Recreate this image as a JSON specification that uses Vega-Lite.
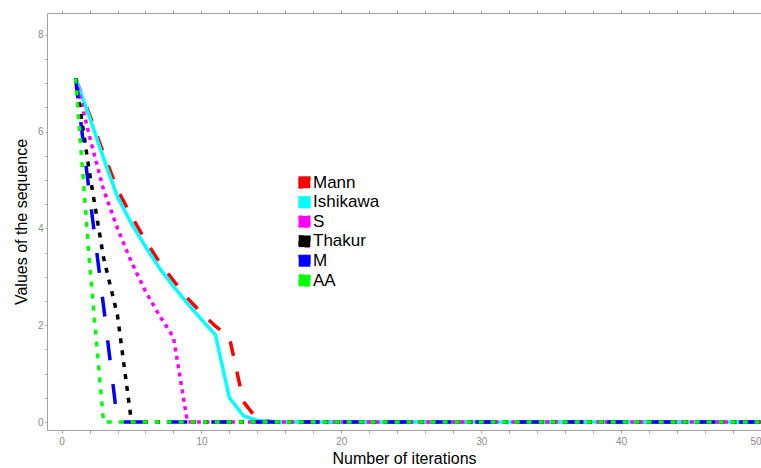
{
  "$schema": "https://vega.github.io/schema/vega-lite/v6.json",
  "width": 714,
  "height": 417,
  "autosize": {"type": "none"},
  "padding": {"left": 47, "top": 13, "right": 0, "bottom": 38},
  "config": {"view": {"stroke": "#a0a0a0", "strokeWidth": 1}, "font": "Liberation Sans"},
  "datasets": {
    "seq": [
      {"series":"Mann","n":1,"value":7.1},{"series":"Mann","n":2,"value":6.35},{"series":"Mann","n":3,"value":5.55},{"series":"Mann","n":4,"value":4.8},{"series":"Mann","n":5,"value":4.25},{"series":"Mann","n":6,"value":3.75},{"series":"Mann","n":7,"value":3.3},{"series":"Mann","n":8,"value":2.92},{"series":"Mann","n":9,"value":2.56},{"series":"Mann","n":10,"value":2.25},{"series":"Mann","n":11,"value":1.98},{"series":"Mann","n":12,"value":1.75},{"series":"Mann","n":13,"value":0.42},{"series":"Mann","n":14,"value":0.05},{"series":"Mann","n":15,"value":0.01},{"series":"Mann","n":16,"value":0},{"series":"Mann","n":17,"value":0},{"series":"Mann","n":18,"value":0},{"series":"Mann","n":19,"value":0},{"series":"Mann","n":20,"value":0},{"series":"Mann","n":21,"value":0},{"series":"Mann","n":22,"value":0},{"series":"Mann","n":23,"value":0},{"series":"Mann","n":24,"value":0},{"series":"Mann","n":25,"value":0},{"series":"Mann","n":26,"value":0},{"series":"Mann","n":27,"value":0},{"series":"Mann","n":28,"value":0},{"series":"Mann","n":29,"value":0},{"series":"Mann","n":30,"value":0},{"series":"Mann","n":31,"value":0},{"series":"Mann","n":32,"value":0},{"series":"Mann","n":33,"value":0},{"series":"Mann","n":34,"value":0},{"series":"Mann","n":35,"value":0},{"series":"Mann","n":36,"value":0},{"series":"Mann","n":37,"value":0},{"series":"Mann","n":38,"value":0},{"series":"Mann","n":39,"value":0},{"series":"Mann","n":40,"value":0},{"series":"Mann","n":41,"value":0},{"series":"Mann","n":42,"value":0},{"series":"Mann","n":43,"value":0},{"series":"Mann","n":44,"value":0},{"series":"Mann","n":45,"value":0},{"series":"Mann","n":46,"value":0},{"series":"Mann","n":47,"value":0},{"series":"Mann","n":48,"value":0},{"series":"Mann","n":49,"value":0},{"series":"Mann","n":50,"value":0},
      {"series":"Ishikawa","n":1,"value":7.1},{"series":"Ishikawa","n":2,"value":6.3},{"series":"Ishikawa","n":3,"value":5.45},{"series":"Ishikawa","n":4,"value":4.65},{"series":"Ishikawa","n":5,"value":4.1},{"series":"Ishikawa","n":6,"value":3.62},{"series":"Ishikawa","n":7,"value":3.18},{"series":"Ishikawa","n":8,"value":2.8},{"series":"Ishikawa","n":9,"value":2.45},{"series":"Ishikawa","n":10,"value":2.12},{"series":"Ishikawa","n":11,"value":1.8},{"series":"Ishikawa","n":12,"value":0.5},{"series":"Ishikawa","n":13,"value":0.13},{"series":"Ishikawa","n":14,"value":0.03},{"series":"Ishikawa","n":15,"value":0.01},{"series":"Ishikawa","n":16,"value":0},{"series":"Ishikawa","n":17,"value":0},{"series":"Ishikawa","n":18,"value":0},{"series":"Ishikawa","n":19,"value":0},{"series":"Ishikawa","n":20,"value":0},{"series":"Ishikawa","n":21,"value":0},{"series":"Ishikawa","n":22,"value":0},{"series":"Ishikawa","n":23,"value":0},{"series":"Ishikawa","n":24,"value":0},{"series":"Ishikawa","n":25,"value":0},{"series":"Ishikawa","n":26,"value":0},{"series":"Ishikawa","n":27,"value":0},{"series":"Ishikawa","n":28,"value":0},{"series":"Ishikawa","n":29,"value":0},{"series":"Ishikawa","n":30,"value":0},{"series":"Ishikawa","n":31,"value":0},{"series":"Ishikawa","n":32,"value":0},{"series":"Ishikawa","n":33,"value":0},{"series":"Ishikawa","n":34,"value":0},{"series":"Ishikawa","n":35,"value":0},{"series":"Ishikawa","n":36,"value":0},{"series":"Ishikawa","n":37,"value":0},{"series":"Ishikawa","n":38,"value":0},{"series":"Ishikawa","n":39,"value":0},{"series":"Ishikawa","n":40,"value":0},{"series":"Ishikawa","n":41,"value":0},{"series":"Ishikawa","n":42,"value":0},{"series":"Ishikawa","n":43,"value":0},{"series":"Ishikawa","n":44,"value":0},{"series":"Ishikawa","n":45,"value":0},{"series":"Ishikawa","n":46,"value":0},{"series":"Ishikawa","n":47,"value":0},{"series":"Ishikawa","n":48,"value":0},{"series":"Ishikawa","n":49,"value":0},{"series":"Ishikawa","n":50,"value":0},
      {"series":"S","n":1,"value":7.1},{"series":"S","n":2,"value":5.9},{"series":"S","n":3,"value":4.8},{"series":"S","n":4,"value":4.0},{"series":"S","n":5,"value":3.3},{"series":"S","n":6,"value":2.7},{"series":"S","n":7,"value":2.2},{"series":"S","n":8,"value":1.75},{"series":"S","n":9,"value":0},{"series":"S","n":10,"value":0},{"series":"S","n":11,"value":0},{"series":"S","n":12,"value":0},{"series":"S","n":13,"value":0},{"series":"S","n":14,"value":0},{"series":"S","n":15,"value":0},{"series":"S","n":16,"value":0},{"series":"S","n":17,"value":0},{"series":"S","n":18,"value":0},{"series":"S","n":19,"value":0},{"series":"S","n":20,"value":0},{"series":"S","n":21,"value":0},{"series":"S","n":22,"value":0},{"series":"S","n":23,"value":0},{"series":"S","n":24,"value":0},{"series":"S","n":25,"value":0},{"series":"S","n":26,"value":0},{"series":"S","n":27,"value":0},{"series":"S","n":28,"value":0},{"series":"S","n":29,"value":0},{"series":"S","n":30,"value":0},{"series":"S","n":31,"value":0},{"series":"S","n":32,"value":0},{"series":"S","n":33,"value":0},{"series":"S","n":34,"value":0},{"series":"S","n":35,"value":0},{"series":"S","n":36,"value":0},{"series":"S","n":37,"value":0},{"series":"S","n":38,"value":0},{"series":"S","n":39,"value":0},{"series":"S","n":40,"value":0},{"series":"S","n":41,"value":0},{"series":"S","n":42,"value":0},{"series":"S","n":43,"value":0},{"series":"S","n":44,"value":0},{"series":"S","n":45,"value":0},{"series":"S","n":46,"value":0},{"series":"S","n":47,"value":0},{"series":"S","n":48,"value":0},{"series":"S","n":49,"value":0},{"series":"S","n":50,"value":0},
      {"series":"Thakur","n":1,"value":7.1},{"series":"Thakur","n":2,"value":5.15},{"series":"Thakur","n":3,"value":3.4},{"series":"Thakur","n":4,"value":2.2},{"series":"Thakur","n":5,"value":0},{"series":"Thakur","n":6,"value":0},{"series":"Thakur","n":7,"value":0},{"series":"Thakur","n":8,"value":0},{"series":"Thakur","n":9,"value":0},{"series":"Thakur","n":10,"value":0},{"series":"Thakur","n":11,"value":0},{"series":"Thakur","n":12,"value":0},{"series":"Thakur","n":13,"value":0},{"series":"Thakur","n":14,"value":0},{"series":"Thakur","n":15,"value":0},{"series":"Thakur","n":16,"value":0},{"series":"Thakur","n":17,"value":0},{"series":"Thakur","n":18,"value":0},{"series":"Thakur","n":19,"value":0},{"series":"Thakur","n":20,"value":0},{"series":"Thakur","n":21,"value":0},{"series":"Thakur","n":22,"value":0},{"series":"Thakur","n":23,"value":0},{"series":"Thakur","n":24,"value":0},{"series":"Thakur","n":25,"value":0},{"series":"Thakur","n":26,"value":0},{"series":"Thakur","n":27,"value":0},{"series":"Thakur","n":28,"value":0},{"series":"Thakur","n":29,"value":0},{"series":"Thakur","n":30,"value":0},{"series":"Thakur","n":31,"value":0},{"series":"Thakur","n":32,"value":0},{"series":"Thakur","n":33,"value":0},{"series":"Thakur","n":34,"value":0},{"series":"Thakur","n":35,"value":0},{"series":"Thakur","n":36,"value":0},{"series":"Thakur","n":37,"value":0},{"series":"Thakur","n":38,"value":0},{"series":"Thakur","n":39,"value":0},{"series":"Thakur","n":40,"value":0},{"series":"Thakur","n":41,"value":0},{"series":"Thakur","n":42,"value":0},{"series":"Thakur","n":43,"value":0},{"series":"Thakur","n":44,"value":0},{"series":"Thakur","n":45,"value":0},{"series":"Thakur","n":46,"value":0},{"series":"Thakur","n":47,"value":0},{"series":"Thakur","n":48,"value":0},{"series":"Thakur","n":49,"value":0},{"series":"Thakur","n":50,"value":0},
      {"series":"M","n":1,"value":7.1},{"series":"M","n":2,"value":4.7},{"series":"M","n":3,"value":2.4},{"series":"M","n":4,"value":0},{"series":"M","n":5,"value":0},{"series":"M","n":6,"value":0},{"series":"M","n":7,"value":0},{"series":"M","n":8,"value":0},{"series":"M","n":9,"value":0},{"series":"M","n":10,"value":0},{"series":"M","n":11,"value":0},{"series":"M","n":12,"value":0},{"series":"M","n":13,"value":0},{"series":"M","n":14,"value":0},{"series":"M","n":15,"value":0},{"series":"M","n":16,"value":0},{"series":"M","n":17,"value":0},{"series":"M","n":18,"value":0},{"series":"M","n":19,"value":0},{"series":"M","n":20,"value":0},{"series":"M","n":21,"value":0},{"series":"M","n":22,"value":0},{"series":"M","n":23,"value":0},{"series":"M","n":24,"value":0},{"series":"M","n":25,"value":0},{"series":"M","n":26,"value":0},{"series":"M","n":27,"value":0},{"series":"M","n":28,"value":0},{"series":"M","n":29,"value":0},{"series":"M","n":30,"value":0},{"series":"M","n":31,"value":0},{"series":"M","n":32,"value":0},{"series":"M","n":33,"value":0},{"series":"M","n":34,"value":0},{"series":"M","n":35,"value":0},{"series":"M","n":36,"value":0},{"series":"M","n":37,"value":0},{"series":"M","n":38,"value":0},{"series":"M","n":39,"value":0},{"series":"M","n":40,"value":0},{"series":"M","n":41,"value":0},{"series":"M","n":42,"value":0},{"series":"M","n":43,"value":0},{"series":"M","n":44,"value":0},{"series":"M","n":45,"value":0},{"series":"M","n":46,"value":0},{"series":"M","n":47,"value":0},{"series":"M","n":48,"value":0},{"series":"M","n":49,"value":0},{"series":"M","n":50,"value":0},
      {"series":"AA","n":1,"value":7.1},{"series":"AA","n":2,"value":3.3},{"series":"AA","n":3,"value":0},{"series":"AA","n":4,"value":0},{"series":"AA","n":5,"value":0},{"series":"AA","n":6,"value":0},{"series":"AA","n":7,"value":0},{"series":"AA","n":8,"value":0},{"series":"AA","n":9,"value":0},{"series":"AA","n":10,"value":0},{"series":"AA","n":11,"value":0},{"series":"AA","n":12,"value":0},{"series":"AA","n":13,"value":0},{"series":"AA","n":14,"value":0},{"series":"AA","n":15,"value":0},{"series":"AA","n":16,"value":0},{"series":"AA","n":17,"value":0},{"series":"AA","n":18,"value":0},{"series":"AA","n":19,"value":0},{"series":"AA","n":20,"value":0},{"series":"AA","n":21,"value":0},{"series":"AA","n":22,"value":0},{"series":"AA","n":23,"value":0},{"series":"AA","n":24,"value":0},{"series":"AA","n":25,"value":0},{"series":"AA","n":26,"value":0},{"series":"AA","n":27,"value":0},{"series":"AA","n":28,"value":0},{"series":"AA","n":29,"value":0},{"series":"AA","n":30,"value":0},{"series":"AA","n":31,"value":0},{"series":"AA","n":32,"value":0},{"series":"AA","n":33,"value":0},{"series":"AA","n":34,"value":0},{"series":"AA","n":35,"value":0},{"series":"AA","n":36,"value":0},{"series":"AA","n":37,"value":0},{"series":"AA","n":38,"value":0},{"series":"AA","n":39,"value":0},{"series":"AA","n":40,"value":0},{"series":"AA","n":41,"value":0},{"series":"AA","n":42,"value":0},{"series":"AA","n":43,"value":0},{"series":"AA","n":44,"value":0},{"series":"AA","n":45,"value":0},{"series":"AA","n":46,"value":0},{"series":"AA","n":47,"value":0},{"series":"AA","n":48,"value":0},{"series":"AA","n":49,"value":0},{"series":"AA","n":50,"value":0}
    ]
  },
  "data": {"name": "seq"},
  "layer": [
    {
      "mark": {"type": "line", "strokeWidth": 3.5, "strokeCap": "butt", "clip": true},
      "encoding": {
        "x": {
          "field": "n", "type": "quantitative",
          "scale": {"domain": [-1.04, 50], "nice": false, "zero": false},
          "axis": {
            "orient": "bottom",
            "values": [0,2,4,6,8,10,12,14,16,18,20,22,24,26,28,30,32,34,36,38,40,42,44,46,48,50],
            "labelExpr": "datum.value % 10 === 0 ? format(datum.value, 'd') : ''",
            "domain": false, "grid": false, "ticks": true,
            "tickSize": 3, "tickColor": "#a0a0a0", "tickWidth": 1,
            "labelPadding": 3, "labelColor": "#8a8a8a", "labelFontSize": 10, "labelFont": "Liberation Sans",
            "title": "Number of iterations", "titleFontSize": 16, "titleFontWeight": "normal", "titleColor": "#000000", "titleFont": "Liberation Sans", "titlePadding": 4,
            "encode": {"ticks": {"update": {"y2": {"signal": "datum.value % 10 === 0 ? -4 : -2.5"}}}}
          }
        },
        "y": {
          "field": "value", "type": "quantitative",
          "scale": {"domain": [-0.165, 8.45], "nice": false, "zero": false},
          "axis": {
            "orient": "left",
            "values": [0,0.5,1,1.5,2,2.5,3,3.5,4,4.5,5,5.5,6,6.5,7,7.5,8],
            "labelExpr": "datum.value % 2 === 0 ? format(datum.value, 'd') : ''",
            "domain": false, "grid": false, "ticks": true,
            "tickSize": 2, "tickColor": "#a0a0a0", "tickWidth": 1,
            "labelPadding": 2, "labelColor": "#8a8a8a", "labelFontSize": 10, "labelFont": "Liberation Sans",
            "title": "Values of the sequence", "titleFontSize": 16, "titleFontWeight": "normal", "titleColor": "#000000", "titleFont": "Liberation Sans", "titlePadding": 8,
            "encode": {"ticks": {"update": {"x2": {"signal": "datum.value % 2 === 0 ? 4 : 2.5"}}}}
          }
        },
        "color": {
          "field": "series", "type": "nominal",
          "scale": {"domain": ["Mann","Ishikawa","S","Thakur","M","AA"], "range": ["#ff0000","#00ffff","#ff00ff","#000000","#0000ff","#00ff00"]},
          "legend": {
            "orient": "none", "legendX": 249, "legendY": 161, "title": null, "padding": 0,
            "symbolType": "square", "symbolSize": 135, "symbolStrokeWidth": 0.7,
            "labelFontSize": 17, "labelFont": "Liberation Sans", "labelColor": "#000000", "labelOffset": 0, "rowPadding": 1.6,
            "encode": {"symbols": {"update": {"fill": {"scale": "color", "field": "value"}, "stroke": {"value": "#333333"}, "strokeDash": {"value": []}, "opacity": {"value": 1}, "fillOpacity": {"value": 1}}}}
          }
        },
        "strokeDash": {
          "field": "series", "type": "nominal",
          "scale": {"domain": ["Mann","Ishikawa","S","Thakur","M","AA"], "range": [[15,16],[1,0],[4,4.5],[5,7],[20,24],[5,7]]},
          "legend": null
        }
      }
    },
    {
      "mark": {"type": "point", "opacity": 0},
      "encoding": {
        "x": {
          "field": "n", "type": "quantitative",
          "axis": {
            "orient": "top",
            "values": [0,2,4,6,8,10,12,14,16,18,20,22,24,26,28,30,32,34,36,38,40,42,44,46,48,50],
            "labels": false, "domain": false, "grid": false, "title": null, "ticks": true,
            "tickSize": 3, "tickColor": "#a0a0a0", "tickWidth": 1,
            "encode": {"ticks": {"update": {"y2": {"signal": "datum.value % 10 === 0 ? 4 : 2.5"}}}}
          }
        }
      }
    }
  ],
  "resolve": {"axis": {"x": "independent"}}
}
